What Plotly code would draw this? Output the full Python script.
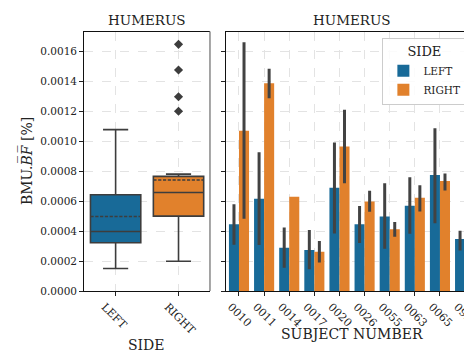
import plotly.graph_objects as go

# ---------------- data ----------------
sides = ["LEFT", "RIGHT"]
box_lowerfence = [0.000151, 0.000199]
box_q1 = [0.000323, 0.000500]
box_median = [0.000398, 0.000658]
box_mean = [0.000498, 0.000741]
box_q3 = [0.000643, 0.000765]
box_upperfence = [0.001077, 0.000780]
right_outliers = [0.001200, 0.001296, 0.001475, 0.001646]

subjects = ["0010", "0011", "0014", "0017", "0020", "0026", "0055", "0063", "0065", "0995"]
left_mean = [0.000446, 0.000616, 0.000289, 0.000275, 0.000689, 0.000446, 0.000498, 0.000570, 0.000774, 0.000348]
left_lo = [0.000310, 0.000308, 0.000155, 0.000146, 0.000385, 0.000321, 0.000282, 0.000383, 0.000452, 0.000271]
left_hi = [0.000580, 0.000927, 0.000424, 0.000407, 0.000992, 0.000568, 0.000719, 0.000759, 0.001087, 0.000402]
right_mean = [0.001070, 0.001386, 0.000630, 0.000262, 0.000964, 0.000597, 0.000413, 0.000623, 0.000734, 0.000656]
right_lo = [0.000483, 0.001287, None, 0.000190, 0.000719, 0.000529, 0.000363, 0.000531, 0.000671, None]
right_hi = [0.001660, 0.001484, None, 0.000334, 0.001210, 0.000669, 0.000461, 0.000706, 0.000785, None]

# ---------------- style ----------------
W, H = 472, 353
BLUE = "#186a98"
ORANGE = "#e1812c"
DARK = "#3d3d3d"
ERR = "#424242"
FONT = "DejaVu Serif"
GRID = "#e3e3e3"

def px_x(p):
    return p / W

def px_y(p):
    return 1 - p / H

top_px, bot_px = 24, 288
ydom = [px_y(bot_px), px_y(top_px)]
ymax = (bot_px - top_px) / 152.5 * 0.001

def errs(mean, lo, hi):
    up = [None if h is None else h - m for m, h in zip(mean, hi)]
    dn = [None if l is None else m - l for m, l in zip(mean, lo)]
    return up, dn

fig = go.Figure()

# box plots
colors = [BLUE, ORANGE]
for i, s in enumerate(sides):
    fig.add_trace(go.Box(
        x=[s], q1=[box_q1[i]], median=[box_median[i]], q3=[box_q3[i]],
        lowerfence=[box_lowerfence[i]], upperfence=[box_upperfence[i]],
        mean=[box_mean[i]], boxmean=True, boxpoints=False,
        fillcolor=colors[i], line=dict(color=DARK, width=1.6),
        whiskerwidth=0.5, width=0.8, showlegend=False,
        xaxis="x", yaxis="y", hoverinfo="skip",
    ))
fig.add_trace(go.Scatter(
    x=["RIGHT"] * len(right_outliers), y=right_outliers, mode="markers",
    marker=dict(symbol="diamond", size=7, color=DARK),
    showlegend=False, xaxis="x", yaxis="y",
))

# bars
lu, ld = errs(left_mean, left_lo, left_hi)
ru, rd = errs(right_mean, right_lo, right_hi)
fig.add_trace(go.Bar(
    x=subjects, y=left_mean, name="LEFT", marker=dict(color=BLUE, line=dict(width=0)),
    error_y=dict(type="data", array=lu, arrayminus=ld, symmetric=False,
                 color=ERR, thickness=3, width=0),
    xaxis="x2", yaxis="y2",
))
fig.add_trace(go.Bar(
    x=subjects, y=right_mean, name="RIGHT", marker=dict(color=ORANGE, line=dict(width=0)),
    error_y=dict(type="data", array=ru, arrayminus=rd, symmetric=False,
                 color=ERR, thickness=3, width=0),
    xaxis="x2", yaxis="y2",
))

tickfont = dict(family=FONT, size=10.5, color="#222")
axcommon = dict(showgrid=True, gridcolor=GRID, griddash="dash", gridwidth=1,
                ticks="outside", ticklen=4, tickcolor="#222", zeroline=False,
                showline=True, linecolor="#111", linewidth=1)

fig.update_layout(
    width=W, height=H,
    margin=dict(l=0, r=0, t=0, b=0),
    paper_bgcolor="white", plot_bgcolor="white",
    font=dict(family=FONT, color="#222"),
    barmode="group", bargap=0.2, bargroupgap=0,
    xaxis=dict(domain=[px_x(76.3), px_x(204)], range=[-0.5, 1.5], type="category",
               categoryorder="array", categoryarray=sides,
               tickangle=45, tickfont=dict(family=FONT, size=11, color="#222"),
               ticklabelshift=-11, mirror=True, anchor="y", **axcommon),
    yaxis=dict(domain=ydom, range=[0, ymax], tickformat=".4f", dtick=0.0002,
               tickfont=tickfont, anchor="x", **axcommon),
    xaxis2=dict(domain=[px_x(220.7), 1], range=[-0.5, 9.355], type="category",
                categoryorder="array", categoryarray=subjects,
                tickangle=45, tickfont=dict(family=FONT, size=11, color="#222"),
                ticklabelshift=-8, mirror=True, anchor="y2", **axcommon),
    yaxis2=dict(domain=ydom, range=[0, ymax], dtick=0.0002, showticklabels=False,
                anchor="x2", **axcommon),
    legend=dict(x=px_x(379), xanchor="left", y=px_y(31), yanchor="top",
                bgcolor="rgba(255,255,255,0.85)", bordercolor="#cccccc", borderwidth=1,
                font=dict(family=FONT, size=10.5, color="#222"),
                itemwidth=30, tracegroupgap=0,
                title=dict(text="SIDE", side="top center",
                           font=dict(family=FONT, size=13, color="#222"))),
    shapes=[dict(type="line", xref="paper", yref="paper",
                 x0=px_x(204), x1=px_x(204), y0=ydom[0], y1=ydom[1],
                 line=dict(color="#888888", width=1.5))],
    annotations=[
        dict(text="HUMERUS", x=px_x(140), y=px_y(12), xref="paper", yref="paper",
             showarrow=False, font=dict(family=FONT, size=13.5, color="#222"),
             xanchor="center", yanchor="middle"),
        dict(text="HUMERUS", x=px_x(348), y=px_y(12), xref="paper", yref="paper",
             showarrow=False, font=dict(family=FONT, size=13.5, color="#222"),
             xanchor="center", yanchor="middle"),
        dict(text="SIDE", x=px_x(140), y=px_y(343), xref="paper", yref="paper",
             showarrow=False, font=dict(family=FONT, size=14, color="#222"),
             xanchor="center", yanchor="middle"),
        dict(text="SUBJECT NUMBER", x=px_x(348), y=px_y(332), xref="paper", yref="paper",
             showarrow=False, font=dict(family=FONT, size=14, color="#222"),
             xanchor="center", yanchor="middle"),
        dict(text="BMU.<i>B\u0305F\u0305</i> [%]", x=px_x(18), y=px_y(156),
             xref="paper", yref="paper", textangle=-90,
             showarrow=False, font=dict(family=FONT, size=14, color="#222"),
             xanchor="center", yanchor="middle"),
    ],
)

fig.write_html("out.html")
